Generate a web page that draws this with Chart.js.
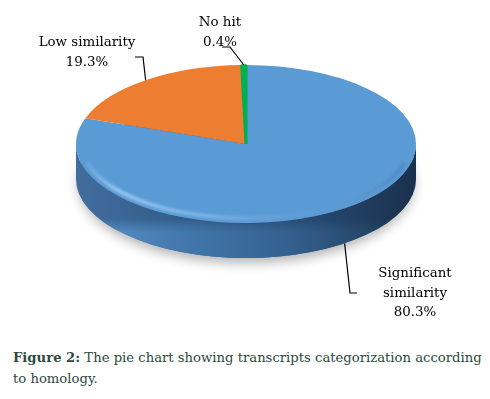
<!DOCTYPE html>
<html>
<head>
<meta charset="utf-8">
<script src="https://cdn.jsdelivr.net/npm/chart.js@4"></script>
<style>
  html, body { margin: 0; padding: 0; background: #fff; }
  body { width: 490px; height: 399px; position: relative; overflow: hidden; font-family: 'DejaVu Serif', serif; }
  #wrap { position: absolute; left: 0; top: 0; width: 490px; height: 335px; }
  .lbl {
    position: absolute; text-align: center; white-space: nowrap;
    font-family: 'DejaVu Serif', serif;
    font-size: 13.4px; line-height: 19.5px; color: #000;
    transform: translateX(-50%);
  }
  #caption {
    position: absolute; left: 13px; top: 347px; white-space: nowrap;
    font-family: 'DejaVu Serif', serif;
    font-size: 13.2px; line-height: 21px; color: #2c4a3c;
  }
  #caption b { font-weight: bold; }
</style>
</head>
<body>
<div id="wrap"><canvas id="c" width="490" height="335"></canvas></div>
<div id="labels"></div>
<div id="caption"><b>Figure 2:</b> The pie chart showing transcripts categorization according<br>to homology.</div>
<script>
// ---- data ----
const categories = ["Significant similarity", "Low similarity", "No hit"];
const labelLines = [["Significant", "similarity", "80.3%"], ["Low similarity", "19.3%"], ["No hit", "0.4%"]];
const values = [80.3, 19.3, 0.4];
const colors = ["#5b9bd5", "#ed7d31", "#00b050"];

// ---- layout (styling only) ----
const ELL = { cx: 246, cy: 144, rx: 170, ry: 79, depth: 35 };
const LABELS = [
  { x: 415, y: 278, elbow: [350, 293], end: [357, 293] },
  { x: 87,  y: 47,  elbow: [143, 57],  end: [135, 57] },
  { x: 220, y: 27,  elbow: [230, 47],  end: [222, 47] }
];

function ellPoint(angle, dy) {
  return [ELL.cx + Math.cos(angle) * ELL.rx, ELL.cy + Math.sin(angle) * ELL.ry + (dy || 0)];
}

const labelsDiv = document.getElementById('labels');
categories.forEach((c, i) => {
  const d = document.createElement('div');
  d.className = 'lbl';
  d.style.left = LABELS[i].x + 'px';
  d.style.top = (LABELS[i].y - 15) + 'px';
  d.innerHTML = labelLines[i].join('<br>');
  labelsDiv.appendChild(d);
});

const pie3d = {
  id: 'pie3d',
  beforeDatasetsDraw(chart) {
    const ctx = chart.ctx;
    const { cx, cy, rx, ry, depth } = ELL;
    const meta = chart.getDatasetMeta(0);
    ctx.save();
    ctx.save();
    ctx.shadowColor = 'rgba(0,0,0,0.3)';
    ctx.shadowBlur = 12;
    ctx.shadowOffsetY = 5;
    ctx.fillStyle = '#3a6a9a';
    ctx.beginPath();
    ctx.ellipse(cx, cy + depth, rx - 2, ry, 0, 0, Math.PI * 2);
    ctx.fill();
    ctx.restore();
    meta.data.forEach((arc, i) => {
      const s = arc.startAngle, e = arc.endAngle;
      const step = Math.PI * 2;
      const segs = [];
      for (let k = -1; k <= 1; k++) {
        const lo = Math.max(s, k * step), hi = Math.min(e, Math.PI + k * step);
        if (hi > lo) segs.push([lo - k * step, hi - k * step]);
      }
      segs.forEach(([lo, hi]) => {
        const g = ctx.createLinearGradient(cx - rx, 0, cx + rx, 0);
        if (i === 0) {
          g.addColorStop(0, '#5a93cc');
          g.addColorStop(0.3, '#4379ae');
          g.addColorStop(0.65, '#325e8c');
          g.addColorStop(1, '#1d3651');
        } else {
          g.addColorStop(0, colors[i]);
          g.addColorStop(1, colors[i]);
        }
        ctx.fillStyle = g;
        ctx.beginPath();
        ctx.ellipse(cx, cy, rx, ry, 0, lo, hi, false);
        ctx.ellipse(cx, cy + depth, rx, ry, 0, hi, lo, true);
        ctx.closePath();
        ctx.fill();
      });
    });
    const g2 = ctx.createLinearGradient(0, cy + ry - 5, 0, cy + ry + depth);
    g2.addColorStop(0, 'rgba(20,40,70,0.35)');
    g2.addColorStop(0.35, 'rgba(20,40,70,0.0)');
    g2.addColorStop(1, 'rgba(20,40,70,0.0)');
    ctx.fillStyle = g2;
    ctx.beginPath();
    ctx.ellipse(cx, cy, rx, ry, 0, 0, Math.PI, false);
    ctx.ellipse(cx, cy + depth, rx, ry, 0, Math.PI, 0, true);
    ctx.closePath();
    ctx.fill();
    ctx.restore();

    const a = meta.data[0];
    const R = a.outerRadius;
    ctx.save();
    ctx.translate(cx, cy);
    ctx.scale(rx / R, ry / R);
    ctx.translate(-a.x, -a.y);
  },
  afterDatasetsDraw(chart) {
    const ctx = chart.ctx;
    ctx.restore();
    const { cx, cy, rx, ry, depth } = ELL;
    ctx.save();
    ctx.beginPath();
    ctx.ellipse(cx, cy, rx, ry, 0, 0, Math.PI * 2);
    ctx.clip();
    const hg = ctx.createLinearGradient(cx - rx, 0, cx + rx, 0);
    hg.addColorStop(0, 'rgba(175,215,250,0.0)');
    hg.addColorStop(0.12, 'rgba(190,225,255,0.8)');
    hg.addColorStop(0.4, 'rgba(170,210,250,0.5)');
    hg.addColorStop(0.7, 'rgba(120,170,220,0.1)');
    hg.addColorStop(1, 'rgba(40,80,130,0.35)');
    ctx.strokeStyle = hg;
    ctx.lineWidth = 3;
    ctx.filter = 'blur(1.5px)';
    ctx.beginPath();
    ctx.ellipse(cx, cy, rx - 6, ry - 5, 0, Math.PI * 0.08, Math.PI * 0.92, false);
    ctx.stroke();
    ctx.restore();

    const meta = chart.getDatasetMeta(0);
    ctx.save();
    ctx.strokeStyle = '#000';
    ctx.lineWidth = 1.2;
    meta.data.forEach((arc, i) => {
      const mid = (arc.startAngle + arc.endAngle) / 2;
      const front = Math.sin(mid) > 0;
      const p = ellPoint(mid, front ? depth : 0);
      const L = LABELS[i];
      ctx.beginPath();
      ctx.moveTo(p[0], p[1]);
      ctx.lineTo(L.elbow[0], L.elbow[1]);
      ctx.lineTo(L.end[0], L.end[1]);
      ctx.stroke();
    });
    ctx.restore();
  }
};

new Chart(document.getElementById('c'), {
  type: 'pie',
  data: {
    labels: categories,
    datasets: [{
      data: values,
      backgroundColor: colors,
      borderColor: colors,
      borderWidth: [0, 0, 3]
    }]
  },
  options: {
    responsive: false,
    animation: false,
    rotation: 0,
    plugins: { legend: { display: false }, tooltip: { enabled: false } },
    layout: { padding: 0 }
  },
  plugins: [pie3d]
});
</script>
</body>
</html>
